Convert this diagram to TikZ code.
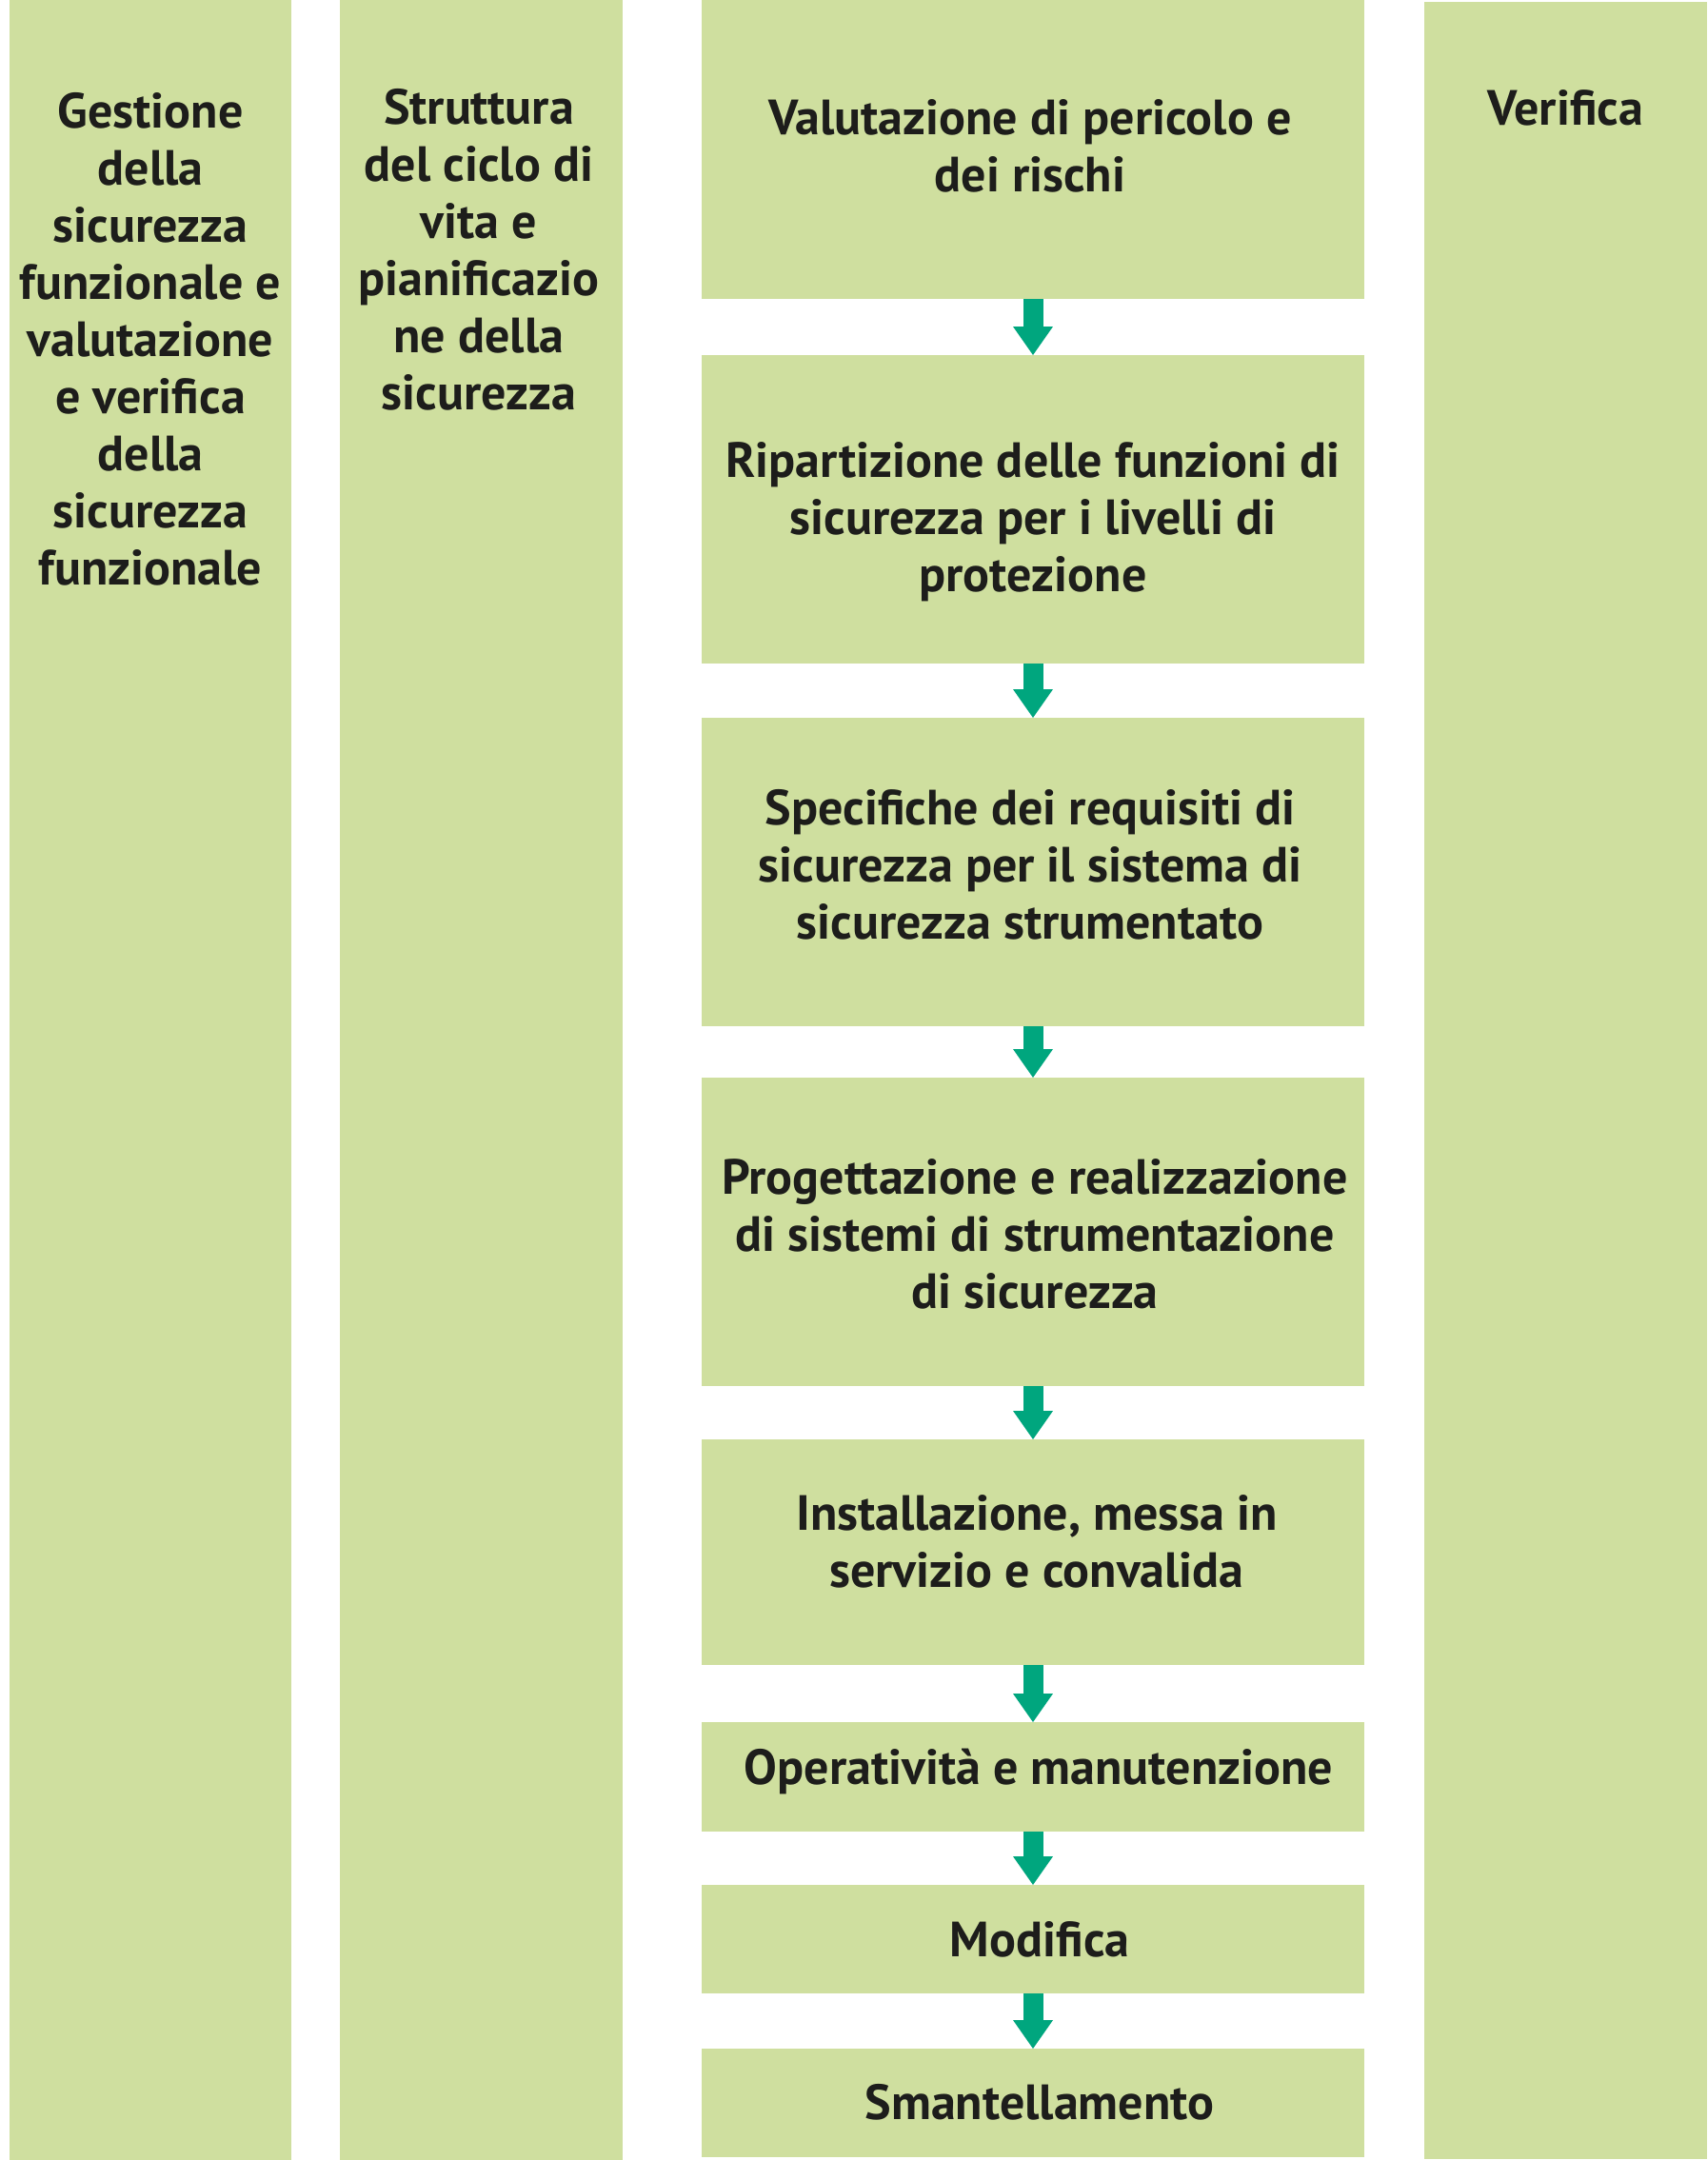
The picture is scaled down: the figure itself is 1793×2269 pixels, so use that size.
\documentclass[tikz,border=0pt]{standalone}
\usepackage{fontspec}
\setmainfont{PT Sans}
\usetikzlibrary{arrows.meta}
\definecolor{boxgreen}{RGB}{207,223,159}
\definecolor{arrowgreen}{RGB}{0,166,126}
\definecolor{txtcol}{RGB}{29,29,27}
\begin{document}
\begin{tikzpicture}[x=1pt,y=-1pt,
  panel/.style={fill=boxgreen, draw=none, inner sep=0pt, outer sep=0pt, rectangle},
  stepbox/.style={panel, minimum width=696pt},
  lbl/.style={text=txtcol, align=center, inner sep=0pt, outer sep=0pt, anchor=base,
    font=\fontsize{52}{60}\selectfont\bfseries},
  flow/.style={draw=arrowgreen, line width=21pt,
    -{Triangle[width=42pt,length=30pt,line width=0pt]}}
]
\useasboundingbox (0,0) rectangle (1793,2269);
% side columns
\node[panel, minimum width=296pt, minimum height=2269pt] (c1) at (158,1134.5) {};
\node[panel, minimum width=297pt, minimum height=2269pt] (c2) at (505.5,1134.5) {};
\node[panel, minimum width=297pt, minimum height=2266pt] (c4) at (1644.5,1135) {};
% (base anchor of a multi-line label = baseline of its last line)
\node[lbl] (t1) at (158,614) {Gestione\\della\\sicurezza\\funzionale e\\valutazione\\e verifica\\della\\sicurezza\\funzionale};
\node[lbl] (t2) at (503,430) {Struttura\\del ciclo di\\vita e\\pianificazio\\ne della\\sicurezza};
\node[lbl] (t4) at (1644.5,132) {Verifica};
% lifecycle steps
\node[stepbox, minimum height=314pt] (b1) at (1085,157) {};
\node[stepbox, minimum height=324pt] (b2) at (1085,535) {};
\node[stepbox, minimum height=324pt] (b3) at (1085,916) {};
\node[stepbox, minimum height=324pt] (b4) at (1085,1294) {};
\node[stepbox, minimum height=237pt] (b5) at (1085,1630.5) {};
\node[stepbox, minimum height=115pt] (b6) at (1085,1866.5) {};
\node[stepbox, minimum height=114pt] (b7) at (1085,2037) {};
\node[stepbox, minimum height=114pt] (b8) at (1085,2209) {};
\node[lbl] (l1) at (1082,202) {Valutazione di pericolo e\\dei rischi};
\node[lbl] (l2) at (1085,621) {Ripartizione delle funzioni di\\sicurezza per i livelli di\\protezione};
\node[lbl] (l3) at (1082,986) {Specifiche dei requisiti di\\sicurezza per il sistema di\\sicurezza strumentato};
\node[lbl] (l4) at (1087,1374) {Progettazione e realizzazione\\di sistemi di strumentazione\\di sicurezza};
\node[lbl] (l5) at (1089,1667) {Installazione, messa in\\servizio e convalida};
\node[lbl] (l6) at (1091,1874) {Operatività e manutenzione};
\node[lbl] (l7) at (1092,2055) {Modifica};
\node[lbl] (l8) at (1092,2226) {Smantellamento};
% arrows
\draw[flow] (b1.south) -- (b2.north);
\draw[flow] (b2.south) -- (b3.north);
\draw[flow] (b3.south) -- (b4.north);
\draw[flow] (b4.south) -- (b5.north);
\draw[flow] (b5.south) -- (b6.north);
\draw[flow] (b6.south) -- (b7.north);
\draw[flow] (b7.south) -- (b8.north);
\end{tikzpicture}
\end{document}
